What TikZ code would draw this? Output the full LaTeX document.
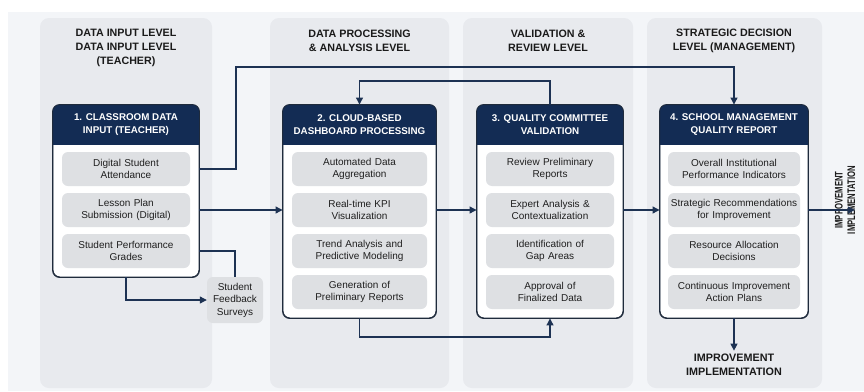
\documentclass[tikz,border=0pt]{standalone}
\usepackage{fontspec}
\setmainfont{Liberation Sans}
\newfontfamily\narrowbold[FakeStretch=0.7]{Liberation Sans Bold}
\usepackage{xcolor}
\usetikzlibrary{arrows.meta,positioning}

\definecolor{navy}{HTML}{132C54}
\definecolor{linenavy}{HTML}{1D3253}
\definecolor{boxline}{HTML}{1F2B3C}
\definecolor{titletext}{HTML}{1A1A1A}
\definecolor{itemtext}{HTML}{1F1F1F}
\definecolor{itemgray}{HTML}{DEE0E3}
\definecolor{panelgray}{HTML}{E8EAEE}
\definecolor{bggray}{HTML}{F3F5F8}

\begin{document}
\begin{tikzpicture}[x=1pt,y=-1pt,
    panel/.style={fill=panelgray, rounded corners=9pt},
    leveltitle/.style={align=center, text=titletext,
        font=\fontsize{10.7}{14.2}\selectfont\bfseries},
    mainbox/.style={draw=boxline, line width=0.9pt, fill=white,
        rounded corners=7pt, inner sep=0pt},
    headfill/.style={fill=navy, rounded corners=7pt},
    header/.style={inner sep=0pt, align=center, text=white,
        font=\fontsize{9.8}{13}\selectfont\bfseries},
    item/.style={fill=itemgray, rounded corners=6pt, minimum height=34pt,
        inner sep=0pt, align=center, text=itemtext,
        font=\fontsize{10}{12.5}\selectfont},
    flow/.style={draw=linenavy, line width=1.1pt},
    arrowed/.style={-{Triangle[width=7pt,length=7pt]}}
]
\useasboundingbox (0,0) rectangle (864,391);
\fill[bggray] (8,12) rectangle (864,391);

% level panels
\fill[panel] (40,18) rectangle (212,388);
\fill[panel] (270,18) rectangle (449,388);
\fill[panel] (463,18) rectangle (633,388);
\fill[panel] (647,18) rectangle (822,388);

\node[leveltitle] (title1) at (126,48) {DATA INPUT LEVEL\\DATA INPUT LEVEL\\(TEACHER)};
\node[leveltitle] (title2) at (359.5,40.5) {DATA PROCESSING\\\& ANALYSIS LEVEL};
\node[leveltitle] (title3) at (548,40.5) {VALIDATION \&\\REVIEW LEVEL};
\node[leveltitle] (title4) at (734,40.5) {STRATEGIC DECISION\\LEVEL (MANAGEMENT)};

% 1. classroom data input
\node[mainbox, minimum width=146pt, minimum height=172pt] (box1) at (126,191) {};
\fill[headfill] (box1.north west) rectangle ([yshift=-40pt]box1.north east);
\fill[navy] ([yshift=-20pt]box1.north west) rectangle ([yshift=-40pt]box1.north east);
\draw[mainbox, fill=none] (box1.south west) rectangle (box1.north east);
\node[header] (head1) at ([yshift=-20pt]box1.north) {1. CLASSROOM DATA\\INPUT (TEACHER)};
\node[item, text width=128pt] (i11) at (126,169) {Digital Student\\Attendance};
\node[item, text width=128pt] (i12) at (126,210) {Lesson Plan\\Submission (Digital)};
\node[item, text width=128pt] (i13) at (126,251) {Student Performance\\Grades};

\node[item, text width=56pt, minimum height=46pt] (survey) at (235,300) {Student\\Feedback\\Surveys};

% 2. dashboard processing
\node[mainbox, minimum width=153pt, minimum height=213pt] (box2) at (359.5,211.5) {};
\fill[headfill] (box2.north west) rectangle ([yshift=-40pt]box2.north east);
\fill[navy] ([yshift=-20pt]box2.north west) rectangle ([yshift=-40pt]box2.north east);
\draw[mainbox, fill=none] (box2.south west) rectangle (box2.north east);
\node[header] (head2) at ([yshift=-20pt]box2.north) {2. CLOUD-BASED\\DASHBOARD PROCESSING};
\node[item, text width=135pt] (i21) at (359.5,169) {Automated Data\\Aggregation};
\node[item, text width=135pt] (i22) at (359.5,210) {Real-time KPI\\Visualization};
\node[item, text width=135pt] (i23) at (359.5,251) {Trend Analysis and\\Predictive Modeling};
\node[item, text width=135pt] (i24) at (359.5,292) {Generation of\\Preliminary Reports};

% 3. quality committee
\node[mainbox, minimum width=146pt, minimum height=213pt] (box3) at (550,211.5) {};
\fill[headfill] (box3.north west) rectangle ([yshift=-40pt]box3.north east);
\fill[navy] ([yshift=-20pt]box3.north west) rectangle ([yshift=-40pt]box3.north east);
\draw[mainbox, fill=none] (box3.south west) rectangle (box3.north east);
\node[header] (head3) at ([yshift=-20pt]box3.north) {3. QUALITY COMMITTEE\\VALIDATION};
\node[item, text width=128pt] (i31) at (550,169) {Review Preliminary\\Reports};
\node[item, text width=128pt] (i32) at (550,210) {Expert Analysis \&\\Contextualization};
\node[item, text width=128pt] (i33) at (550,251) {Identification of\\Gap Areas};
\node[item, text width=128pt] (i34) at (550,292) {Approval of\\Finalized Data};

% 4. school management report
\node[mainbox, minimum width=148pt, minimum height=213pt] (box4) at (734,211.5) {};
\fill[headfill] (box4.north west) rectangle ([yshift=-40pt]box4.north east);
\fill[navy] ([yshift=-20pt]box4.north west) rectangle ([yshift=-40pt]box4.north east);
\draw[mainbox, fill=none] (box4.south west) rectangle (box4.north east);
\node[header] (head4) at ([yshift=-20pt]box4.north) {4. SCHOOL MANAGEMENT\\QUALITY REPORT};
\node[item, text width=132pt] (i41) at (734,169) {Overall Institutional\\Performance Indicators};
\node[item, text width=132pt] (i42) at (734,210) {Strategic Recommendations\\for Improvement};
\node[item, text width=132pt] (i43) at (734,251) {Resource Allocation\\Decisions};
\node[item, text width=132pt] (i44) at (734,292) {Continuous Improvement\\Action Plans};

\node[align=center, text=titletext, font=\fontsize{10.8}{14}\selectfont\bfseries] (implbot) at (734,365) {IMPROVEMENT\\IMPLEMENTATION};
\node[rotate=90, align=center, text=titletext, inner sep=1.5pt, font=\narrowbold\fontsize{11}{12.5}\selectfont] (implside) at (845,200) {IMPROVEMENT\\IMPLEMENTATION};

% connectors
\coordinate (topbend) at (236,67);
\coordinate (loopup) at (550,81);
\coordinate (loopdown) at (359.5,337);
\draw[flow, arrowed] (box1.east |- i11) -| (topbend) -| (box4.north);
\draw[flow, arrowed] (box1.east |- i12) -- (box2.west |- i22);
\draw[flow] (box1.east |- i13) -| (survey.north);
\draw[flow, arrowed] (box1.south) |- (survey.west);
\draw[flow, arrowed] (box2.east |- i22) -- (box3.west |- i32);
\draw[flow, arrowed] (box3.north) -- (loopup) -| (box2.north);
\draw[flow, arrowed] (box2.south) -- (loopdown) -| (box3.south);
\draw[flow, arrowed] (box3.east |- i32) -- (box4.west |- i42);
\draw[flow, arrowed] (box4.east |- i42) -- ([xshift=-2pt]implside.south |- i42);
\draw[flow, arrowed] (box4.south) -- (implbot.north);
\end{tikzpicture}
\end{document}
